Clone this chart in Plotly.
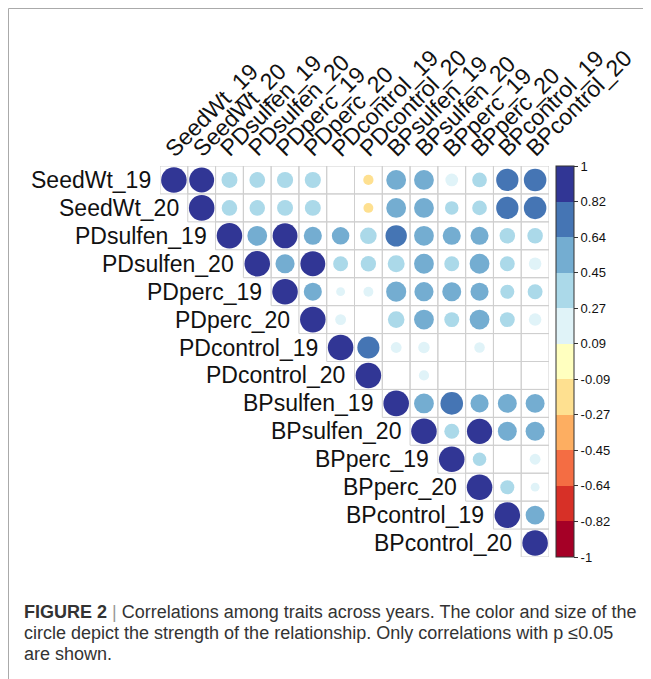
import math
import plotly.graph_objects as go

# ---- data -------------------------------------------------------------
traits = ["SeedWt_19", "SeedWt_20", "PDsulfen_19", "PDsulfen_20", "PDperc_19",
          "PDperc_20", "PDcontrol_19", "PDcontrol_20", "BPsulfen_19", "BPsulfen_20",
          "BPperc_19", "BPperc_20", "BPcontrol_19", "BPcontrol_20"]

# upper-triangle rows, each starting at the diagonal (None = not significant)
r_SeedWt_19    = [1, 0.95, 0.39, 0.38, 0.40, 0.40, None, -0.16, 0.60, 0.60, 0.25, 0.33, 0.76, 0.78]
r_SeedWt_20    = [1, 0.37, 0.37, 0.39, 0.39, None, -0.15, 0.60, 0.60, 0.28, 0.33, 0.76, 0.78]
r_PDsulfen_19  = [1, 0.60, 0.95, 0.50, 0.47, 0.42, 0.70, 0.60, 0.50, 0.50, 0.37, 0.37]
r_PDsulfen_20  = [1, 0.56, 0.95, 0.34, 0.36, 0.44, 0.60, 0.34, 0.60, 0.34, 0.24]
r_PDperc_19    = [1, 0.50, 0.12, 0.15, 0.62, 0.56, 0.55, 0.50, 0.30, 0.34]
r_PDperc_20    = [1, 0.18, None, 0.42, 0.60, 0.34, 0.60, 0.34, 0.24]
r_PDcontrol_19 = [1, 0.75, 0.18, 0.20, None, 0.17, None, None]
r_PDcontrol_20 = [1, None, 0.16, None, None, None, None]
r_BPsulfen_19  = [1, 0.60, 0.78, 0.50, 0.55, 0.55]
r_BPsulfen_20  = [1, 0.34, 0.97, 0.55, 0.55]
r_BPperc_19    = [1, 0.28, None, 0.18]
r_BPperc_20    = [1, 0.30, 0.12]
r_BPcontrol_19 = [1, 0.55]
r_BPcontrol_20 = [1]

rows = [r_SeedWt_19, r_SeedWt_20, r_PDsulfen_19, r_PDsulfen_20, r_PDperc_19,
        r_PDperc_20, r_PDcontrol_19, r_PDcontrol_20, r_BPsulfen_19, r_BPsulfen_20,
        r_BPperc_19, r_BPperc_20, r_BPcontrol_19, r_BPcontrol_20]

palette = ["#a50026", "#d73027", "#f46d43", "#fdae61", "#fee090", "#ffffbf",
           "#e0f3f8", "#abd9e9", "#74add1", "#4575b4", "#313695"]
cb_ticktext = ["-1", "-0.82", "-0.64", "-0.45", "-0.27", "-0.09",
               "0.09", "0.27", "0.45", "0.64", "0.82", "1"]

# ---- geometry (page body has an 8px margin) ---------------------------
OFF = 8
W, H = 651, 679
L, T = 160 - OFF, 166 - OFF
pw, ph = 389, 391
R, B = W - L - pw, H - T - ph
n = len(traits)
cell = pw / n
full_d = cell * 0.92

xs, ys, vals, sizes = [], [], [], []
for i, row in enumerate(rows):
    for k, v in enumerate(row):
        j = i + k
        if v is None:
            continue
        xs.append(j + 1)
        ys.append(i + 1)
        vals.append(v)
        sizes.append(full_d * math.sqrt(abs(v)))

cs = []
nb = len(palette)
for k, c in enumerate(palette):
    cs.append([k / nb, c])
    cs.append([(k + 1) / nb, c])
cb_tickvals = [-1 + 2 * k / nb for k in range(nb + 1)]


def px2x(p):
    return (p - OFF - L) / pw


def px2y(p):
    return (H - B - (p - OFF)) / ph


fig = go.Figure()
fig.add_trace(go.Scatter(
    x=xs, y=ys, mode="markers",
    marker=dict(size=sizes, color=vals, cmin=-1, cmax=1, colorscale=cs,
                line=dict(width=0), opacity=1,
                colorbar=dict(x=px2x(556), xanchor="left", xpad=0,
                              y=0.5, yanchor="middle", ypad=0, len=1,
                              thickness=18, outlinewidth=1, outlinecolor="#333",
                              tickvals=cb_tickvals, ticktext=cb_ticktext,
                              ticks="outside", ticklen=4, tickcolor="#333",
                              tickfont=dict(family="Liberation Sans, Arial", size=13,
                                            color="#111"))),
    hoverinfo="skip", showlegend=False))

shapes = []
for i in range(n):
    for j in range(i, n):
        shapes.append(dict(type="rect", xref="x", yref="y",
                           x0=j + 0.5, x1=j + 1.5, y0=i + 0.5, y1=i + 1.5,
                           line=dict(color="#cfcfcf", width=1), layer="below"))

# figure frame (top edge kept just inside the drawable area)
shapes.append(dict(type="path", xref="paper", yref="paper",
                   path=f"M {px2x(8.5)} {px2y(700)} L {px2x(8.5)} {px2y(8.5)} L {px2x(670)} {px2y(8.5)}",
                   line=dict(color="#aaaaaa", width=1)))

annotations = []
lab_font = dict(family="Liberation Sans, Arial", size=23, color="#111")
for i, t in enumerate(traits):
    annotations.append(dict(x=i + 1, y=i + 1, xref="x", yref="y", text=t,
                            showarrow=False, xanchor="right", yanchor="middle",
                            xshift=-cell / 2 - 7, font=lab_font))
    annotations.append(dict(x=i + 1, y=0.5, xref="x", yref="y", text=t,
                            showarrow=False, xanchor="left", yanchor="bottom",
                            textangle=-45, xshift=-17, yshift=2, font=lab_font))

cap_font = dict(family="Liberation Sans, Arial", size=18, color="#333")
cap_lines = [
    "<b>FIGURE 2</b> <span style='color:#999'>|</span> Correlations among traits across years. The color and size of the",
    "circle depict the strength of the relationship. Only correlations with p \u22640.05",
    "are shown.",
]
for k, line in enumerate(cap_lines):
    annotations.append(dict(x=px2x(22), y=px2y(612 + 21 * k), xref="paper", yref="paper",
                            text=line, showarrow=False, xanchor="left", yanchor="middle",
                            font=cap_font))

fig.update_layout(
    width=W, height=H,
    margin=dict(l=L, r=R, t=T, b=B, pad=0),
    paper_bgcolor="white", plot_bgcolor="white",
    xaxis=dict(range=[0.5, n + 0.5], visible=False, fixedrange=True),
    yaxis=dict(range=[n + 0.5, 0.5], visible=False, fixedrange=True),
    shapes=shapes, annotations=annotations,
)

fig.write_html("out.html")
